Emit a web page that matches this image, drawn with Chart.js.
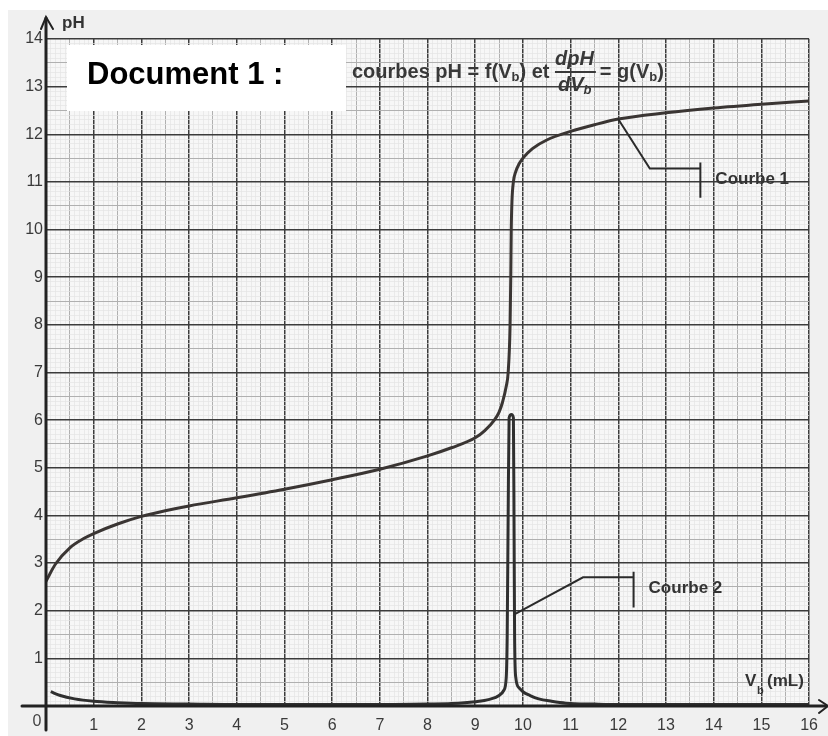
<!DOCTYPE html>
<html>
<head>
<meta charset="utf-8">
<script src="https://cdn.jsdelivr.net/npm/chart.js@4.4.1/dist/chart.umd.min.js"></script>
<style>
  html, body { margin: 0; padding: 0; background: #ffffff; }
  #wrap { width: 828px; height: 736px; }
</style>
</head>
<body>
<div id="wrap"><canvas id="titrage" width="828" height="736"></canvas></div>
<script>
// Courbe 1 : pH = f(Vb)
const vb1 = [0, 0.2, 0.5, 0.8, 1, 1.5, 2, 2.5, 3, 4, 5, 6, 7, 8, 8.5, 9, 9.2, 9.4, 9.5, 9.57, 9.65, 9.69, 9.73, 9.745, 9.755, 9.77, 9.8, 9.85, 9.92, 10, 10.2, 10.5, 11, 11.5, 12, 13, 14, 15, 16];
const ph1 = [2.62, 2.98, 3.32, 3.52, 3.62, 3.82, 3.98, 4.1, 4.2, 4.37, 4.55, 4.75, 4.97, 5.25, 5.42, 5.63, 5.78, 6.0, 6.17, 6.37, 6.71, 7.0, 7.97, 9.0, 10.0, 10.6, 11.0, 11.22, 11.38, 11.5, 11.7, 11.88, 12.06, 12.2, 12.32, 12.45, 12.55, 12.63, 12.7];

// Courbe 2 : dpH/dVb = g(Vb)
const vb2 = [0.1, 0.3, 0.6, 1, 1.5, 2, 3, 4, 5, 6, 7, 8, 8.5, 9, 9.3, 9.5, 9.6, 9.65, 9.67, 9.69, 9.71, 9.76, 9.8, 9.815, 9.825, 9.85, 9.92, 10, 10.15, 10.33, 10.6, 10.9, 11.5, 12, 13, 14, 15, 16];
const der2 = [0.3, 0.22, 0.15, 0.1, 0.07, 0.05, 0.04, 0.03, 0.03, 0.03, 0.03, 0.04, 0.05, 0.09, 0.14, 0.22, 0.33, 0.6, 1.5, 4.0, 6.05, 6.12, 6.05, 3.5, 1.5, 0.6, 0.38, 0.3, 0.22, 0.15, 0.1, 0.06, 0.04, 0.03, 0.03, 0.03, 0.03, 0.03];

// tick labels
const xTicks = [1, 2, 3, 4, 5, 6, 7, 8, 9, 10, 11, 12, 13, 14, 15, 16];
const yTicks = [1, 2, 3, 4, 5, 6, 7, 8, 9, 10, 11, 12, 13, 14];

const FONT = '"Liberation Sans", Arial, Helvetica, sans-serif';
const INK = '#3a3533';

// millimetre paper: major every 1, medium every 0.5, fine every 0.1
function gridColor(ctx) {
    const v = Math.round(ctx.tick.value * 10);
    if (v % 10 === 0) return '#3c3c3c';
    if (v % 5 === 0) return '#b0b0b0';
    return '#e4e4e4';
}
function gridWidth(ctx) {
    const v = Math.round(ctx.tick.value * 10);
    if (v % 10 === 0) return 1.5;
    if (v % 5 === 0) return 1;
    return 0.7;
}

// leader lines of the two labels (in data units)
const leaders = [
    { text: 'Courbe 1', v: [11.99, 12.66, 13.72], p: [12.33, 11.28, 11.28], bar: [11.41, 10.67] },
    { text: 'Courbe 2', v: [9.83, 11.26, 12.32], p: [1.93, 2.70, 2.70], bar: [2.82, 2.07] }
];

const paperPlugin = {
    id: 'paper',
    beforeDraw(chart) {
        const c = chart.ctx;
        c.save();
        c.fillStyle = '#ffffff';
        c.fillRect(0, 0, chart.width, chart.height);
        c.fillStyle = '#f0f0f0';
        c.fillRect(8, 10, chart.width - 8, chart.height - 10);
        const a = chart.chartArea;
        c.fillStyle = '#f7f7f7';
        c.fillRect(a.left, a.top, a.right - a.left, a.bottom - a.top);
        c.restore();
    },
    afterDatasetsDraw(chart) {
        const c = chart.ctx;
        const x = chart.scales.x, y = chart.scales.y;
        c.save();
        c.strokeStyle = '#222';
        c.lineCap = 'round';

        // axes with arrows
        const x0 = x.getPixelForValue(0), y0 = y.getPixelForValue(0);
        c.lineWidth = 3;
        c.beginPath();
        c.moveTo(22, y0); c.lineTo(826, y0);
        c.moveTo(x0, 730); c.lineTo(x0, 18);
        c.stroke();
        c.lineWidth = 2;
        c.beginPath();
        c.moveTo(41, 29); c.lineTo(x0, 17); c.lineTo(53, 29);
        c.moveTo(819, 700); c.lineTo(828, y0); c.lineTo(819, 713);
        c.stroke();

        // leader lines
        c.strokeStyle = '#2b2b2b';
        c.lineWidth = 2;
        c.lineCap = 'butt';
        leaders.forEach(l => {
            c.beginPath();
            l.v.forEach((v, i) => {
                const px = x.getPixelForValue(v), py = y.getPixelForValue(l.p[i]);
                if (i === 0) c.moveTo(px, py); else c.lineTo(px, py);
            });
            const bx = x.getPixelForValue(l.v[l.v.length - 1]);
            c.moveTo(bx, y.getPixelForValue(l.bar[0]));
            c.lineTo(bx, y.getPixelForValue(l.bar[1]));
            c.stroke();
            c.font = 'bold 17px ' + FONT;
            c.fillStyle = '#333';
            c.textBaseline = 'middle';
            c.textAlign = 'left';
            const my = (y.getPixelForValue(l.bar[0]) + y.getPixelForValue(l.bar[1])) / 2;
            c.fillText(l.text, bx + 15, my - 1);
        });
        c.restore();
    },
    afterDraw(chart) {
        const c = chart.ctx;
        c.save();
        // title box
        c.fillStyle = '#ffffff';
        c.fillRect(67, 45, 279, 66);
        c.fillStyle = '#000';
        c.font = 'bold 31px ' + FONT;
        c.textBaseline = 'alphabetic';
        c.textAlign = 'left';
        c.fillText('Document 1 :', 87, 84);

        // subtitle with fraction
        c.fillStyle = '#383838';
        let xx = 352;
        const base = 78;
        const put = (t, font, dy) => {
            c.font = font;
            c.fillText(t, xx, base + (dy || 0));
            xx += c.measureText(t).width;
        };
        const big = 'bold 20px ' + FONT, sub = 'bold 13px ' + FONT;
        put('courbes pH = f(V', big);
        put('b', sub, 3);
        put(') et ', big);
        const fx = xx;
        c.font = 'italic bold 20px ' + FONT;
        c.fillText('dpH', fx, 65);
        const w = c.measureText('dpH').width + 2;
        c.fillRect(fx, 71, w, 2);
        c.fillText('dV', fx + 3, 91);
        const wd = c.measureText('dV').width;
        c.font = 'italic bold 13px ' + FONT;
        c.fillText('b', fx + 3 + wd, 94);
        xx = fx + w + 4;
        put('= g(V', big);
        put('b', sub, 3);
        put(')', big);

        // axis names
        c.fillStyle = '#333';
        c.font = 'bold 17px ' + FONT;
        c.fillText('pH', 62, 28);
        c.fillText('V', 745, 686);
        c.font = 'bold 11px ' + FONT;
        c.fillText('b', 757, 694);
        c.font = 'bold 17px ' + FONT;
        c.fillText('(mL)', 767, 686);

        // origin
        c.font = '16px ' + FONT;
        c.fillStyle = '#444';
        c.textAlign = 'center';
        c.fillText('0', 37, 726);
        c.restore();
    }
};

const ds1 = vb1.map((v, i) => ({ x: v, y: ph1[i] }));
const ds2 = vb2.map((v, i) => ({ x: v, y: der2[i] }));

new Chart(document.getElementById('titrage'), {
    type: 'line',
    data: {
        datasets: [
            {
                label: 'Courbe 1',
                data: ds1,
                borderColor: INK,
                borderWidth: 3,
                pointRadius: 0,
                cubicInterpolationMode: 'monotone',
                fill: false
            },
            {
                label: 'Courbe 2',
                data: ds2,
                borderColor: '#2f2f2f',
                borderWidth: 3,
                pointRadius: 0,
                cubicInterpolationMode: 'monotone',
                borderJoinStyle: 'round',
                fill: false
            }
        ]
    },
    options: {
        responsive: false,
        animation: false,
        events: [],
        layout: { padding: { left: 0, right: 16, top: 39, bottom: 0 } },
        plugins: {
            legend: { display: false },
            tooltip: { enabled: false },
            title: { display: false }
        },
        scales: {
            x: {
                type: 'linear',
                min: 0,
                max: 16,
                border: { display: false },
                grid: { color: gridColor, lineWidth: gridWidth, drawTicks: false },
                ticks: {
                    stepSize: 0.1,
                    autoSkip: false,
                    maxRotation: 0,
                    minRotation: 0,
                    padding: 10,
                    color: '#3a3a3a',
                    font: { family: FONT, size: 16 },
                    callback: v => xTicks.includes(Math.round(v * 10) / 10) ? String(Math.round(v)) : ''
                },
                afterFit: s => { s.height = 30; }
            },
            y: {
                type: 'linear',
                min: 0,
                max: 14,
                border: { display: false },
                grid: { color: gridColor, lineWidth: gridWidth, drawTicks: false },
                ticks: {
                    stepSize: 0.1,
                    autoSkip: false,
                    padding: 3,
                    color: '#3a3a3a',
                    font: { family: FONT, size: 16 },
                    callback: v => yTicks.includes(Math.round(v * 10) / 10) ? String(Math.round(v)) : ''
                },
                afterFit: s => { s.width = 46; }
            }
        }
    },
    plugins: [paperPlugin]
});
</script>
</body>
</html>
